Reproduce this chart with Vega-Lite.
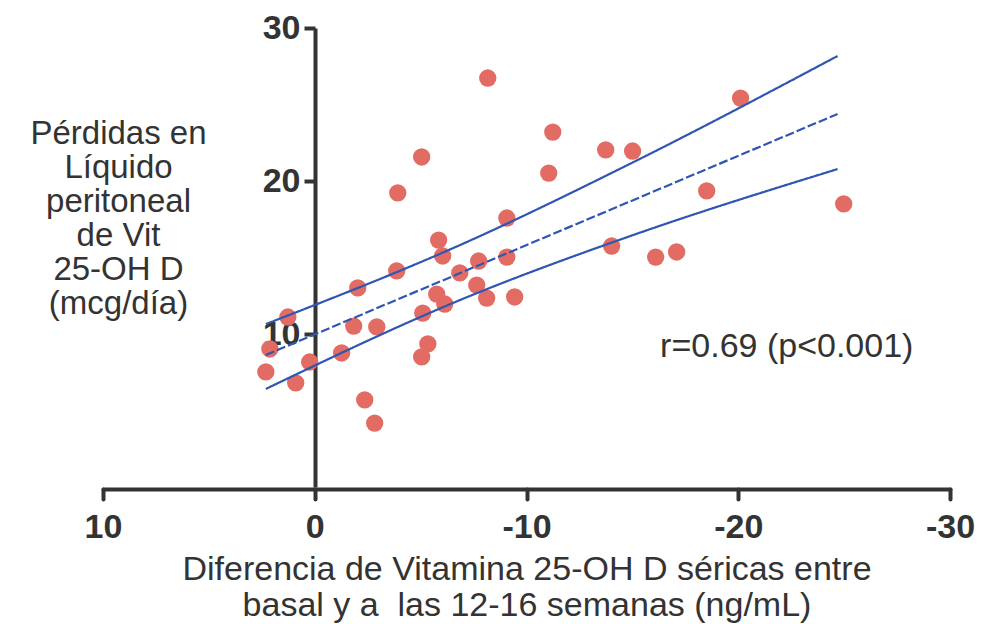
{
  "$schema": "https://vega.github.io/schema/vega-lite/v6.json",
  "width": 847,
  "height": 459,
  "autosize": {"type": "none"},
  "padding": {"left": 103, "top": 28, "right": 32, "bottom": 137},
  "background": "white",
  "config": {"view": {"stroke": null}, "font": "Liberation Sans"},
  "datasets": {
    "points": [
      {"x": 2.31, "y": 7.52}, {"x": 2.12, "y": 9.02}, {"x": 1.27, "y": 11.11}, {"x": 0.90, "y": 6.80},
      {"x": 0.24, "y": 8.17}, {"x": -1.27, "y": 8.76}, {"x": -1.84, "y": 10.52}, {"x": -2.03, "y": 13.01},
      {"x": -2.36, "y": 5.69}, {"x": -2.83, "y": 4.18}, {"x": -2.93, "y": 10.46}, {"x": -3.92, "y": 19.22},
      {"x": -3.87, "y": 14.12}, {"x": -5.05, "y": 21.57}, {"x": -5.10, "y": 11.37}, {"x": -5.34, "y": 9.35},
      {"x": -5.05, "y": 8.50}, {"x": -5.76, "y": 12.61}, {"x": -5.85, "y": 16.14}, {"x": -6.04, "y": 15.10},
      {"x": -6.14, "y": 11.96}, {"x": -6.85, "y": 13.99}, {"x": -7.65, "y": 13.20}, {"x": -7.74, "y": 14.77},
      {"x": -8.17, "y": 26.73}, {"x": -8.12, "y": 12.35}, {"x": -9.07, "y": 17.58}, {"x": -9.07, "y": 15.03},
      {"x": -9.44, "y": 12.42}, {"x": -11.05, "y": 20.52}, {"x": -11.24, "y": 23.20}, {"x": -13.74, "y": 22.03},
      {"x": -14.02, "y": 15.75}, {"x": -15.01, "y": 21.96}, {"x": -16.10, "y": 15.03}, {"x": -17.09, "y": 15.36},
      {"x": -18.51, "y": 19.35}, {"x": -20.11, "y": 25.42}, {"x": -24.98, "y": 18.50}
    ],
    "bands": [
      {"series": "upper", "x": 2.31, "y": 10.65}, {"series": "upper", "x": -7, "y": 15.9},
      {"series": "upper", "x": -15, "y": 21.2}, {"series": "upper", "x": -24.69, "y": 28.17},
      {"series": "fit", "x": 2.31, "y": 8.63}, {"series": "fit", "x": -24.69, "y": 24.38},
      {"series": "lower", "x": 2.31, "y": 6.41}, {"series": "lower", "x": -7, "y": 12.3},
      {"series": "lower", "x": -15, "y": 16.45}, {"series": "lower", "x": -24.69, "y": 20.78}
    ]
  },
  "layer": [
    {
      "data": {"name": "points"},
      "mark": {"type": "circle", "size": 300, "color": "#e26b63", "opacity": 1},
      "encoding": {
        "x": {
          "field": "x", "type": "quantitative",
          "scale": {"domain": [10, -30], "nice": false, "zero": false},
          "axis": {
            "values": [10, 0, -10, -20, -30],
            "labelExpr": "replace(datum.label, '−', '-')",
            "grid": false, "offset": 2,
            "domainWidth": 4, "domainColor": "#333", "domainCap": "round",
            "tickWidth": 4, "tickSize": 10, "tickColor": "#333", "tickCap": "round",
            "labelFontSize": 34, "labelFontWeight": "bold", "labelColor": "#333", "labelFont": "Liberation Sans",
            "labelPadding": 11, "labelFlush": false, "labelOverlap": false, "labelBound": false,
            "title": ["Diferencia de Vitamina 25-OH D séricas entre", "basal y a \u00a0las 12-16 semanas (ng/mL)"],
            "titleFont": "Liberation Sans", "titleFontSize": 34, "titleFontWeight": "normal", "titleColor": "#333",
            "titleLineHeight": 36, "titleBaseline": "top", "titleY": 63
          }
        },
        "y": {
          "field": "y", "type": "quantitative",
          "scale": {"domain": [0, 30], "nice": false},
          "axis": {
            "orient": "left", "offset": -212,
            "values": [10, 20, 30], "grid": false,
            "domainWidth": 4, "domainColor": "#333",
            "tickWidth": 4, "tickSize": 11, "tickColor": "#333",
            "labelFontSize": 34, "labelFontWeight": "bold", "labelColor": "#333", "labelFont": "Liberation Sans",
            "labelPadding": 4, "labelFlush": false, "labelBound": false,
            "title": ["Pérdidas en", "Líquido", "peritoneal", "de Vit", "25-OH D", "(mcg/día)"],
            "titleAngle": 0, "titleAlign": "center", "titleBaseline": "top",
            "titleX": -197, "titleY": 89,
            "titleFont": "Liberation Sans", "titleFontSize": 33, "titleFontWeight": "normal", "titleColor": "#333",
            "titleLineHeight": 34
          }
        }
      }
    },
    {
      "data": {"name": "bands"},
      "mark": {"type": "line", "color": "#2f56b3", "strokeWidth": 2.2, "interpolate": "monotone"},
      "encoding": {
        "x": {"field": "x", "type": "quantitative"},
        "y": {"field": "y", "type": "quantitative"},
        "detail": {"field": "series", "type": "nominal"},
        "strokeDash": {
          "field": "series", "type": "nominal",
          "scale": {"domain": ["upper", "fit", "lower"], "range": [[1, 0], [9, 3], [1, 0]]},
          "legend": null
        }
      }
    },
    {
      "data": {"values": [{"x": -22.29, "y": 9.15, "label": "r=0.69 (p<0.001)"}]},
      "mark": {"type": "text", "align": "center", "baseline": "middle", "fontSize": 34, "color": "#333", "font": "Liberation Sans"},
      "encoding": {
        "x": {"field": "x", "type": "quantitative"},
        "y": {"field": "y", "type": "quantitative"},
        "text": {"field": "label", "type": "nominal"}
      }
    }
  ]
}
